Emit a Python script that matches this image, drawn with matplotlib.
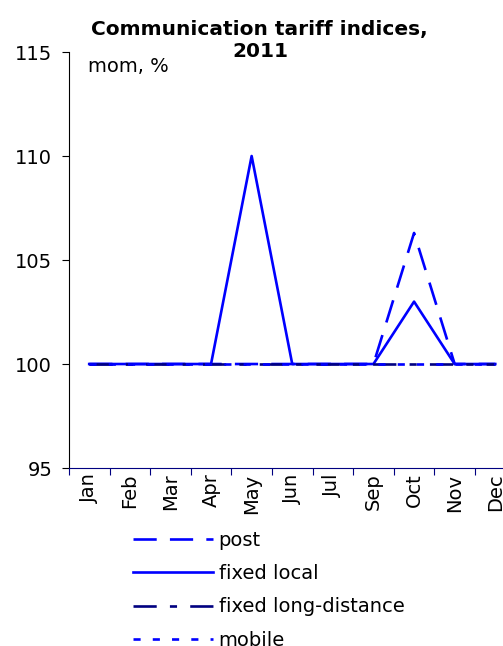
import matplotlib.pyplot as plt

months = ['Jan', 'Feb', 'Mar', 'Apr', 'May', 'Jun', 'Jul', 'Sep', 'Oct', 'Nov', 'Dec']
post = [100, 100, 100, 100, 100, 100, 100, 100, 106.3, 100, 100]
fixed_local = [100, 100, 100, 100, 110, 100, 100, 100, 103, 100, 100]
fixed_long = [100, 100, 100, 100, 100, 100, 100, 100, 100, 100, 100]
mobile = [100, 100, 100, 100, 100, 100, 100, 100, 100, 100, 100]

fig = plt.figure(figsize=(5.03, 6.46), dpi=100)
ax = fig.add_axes([0.137, 0.2755, 0.888, 0.644])

x = range(len(months))
lw = 1.9
ax.plot(x, post, color='#0000ff', lw=lw, linestyle=(0, (8.8, 5)), label='post')
ax.plot(x, fixed_local, color='#0000ff', lw=lw, label='fixed local')
ax.plot(x, fixed_long, color='#000080', lw=lw, linestyle=(0, (8.8, 5, 2.7, 5)), label='fixed long-distance')
ax.plot(x, mobile, color='#0000ff', lw=lw, linestyle=(0, (2.7, 4.6)), label='mobile')

ax.set_ylim(95, 115)
ax.set_yticks([95, 100, 105, 110, 115])
ax.set_xlim(-0.5, len(months) - 0.5)
ax.set_xticks([i - 0.5 for i in range(len(months) + 1)])
ax.set_xticklabels([])
ax.set_xticks(list(x), minor=True)
ax.set_xticklabels(months, minor=True, rotation=90, fontsize=14)
ax.tick_params(axis='x', which='minor', length=0, pad=4)
ax.tick_params(axis='x', which='major', length=5, color='#000080', direction='out')
ax.tick_params(axis='y', length=5, direction='out', labelsize=14, pad=7)

ax.spines['top'].set_visible(False)
ax.spines['right'].set_visible(False)
ax.spines['bottom'].set_color('#000080')

ax.text(0.0426, 0.952, 'mom, %', transform=ax.transAxes, fontsize=14, va='baseline')
# title in two lines, kept as separate texts
fig.text(0.515, 0.954, 'Communication tariff indices,', ha='center', va='center',
         fontsize=14.5, fontweight='bold')
fig.text(0.517, 0.921, '2011', ha='center', va='center',
         fontsize=14.5, fontweight='bold')

ax.legend(loc='upper left', bbox_to_anchor=(0.2644, 0.178), bbox_transform=fig.transFigure,
          frameon=False, fontsize=14, handlelength=4.1, handletextpad=0.3, labelspacing=0.73,
          borderpad=0, borderaxespad=0)

fig.savefig('out.png', dpi=100)
